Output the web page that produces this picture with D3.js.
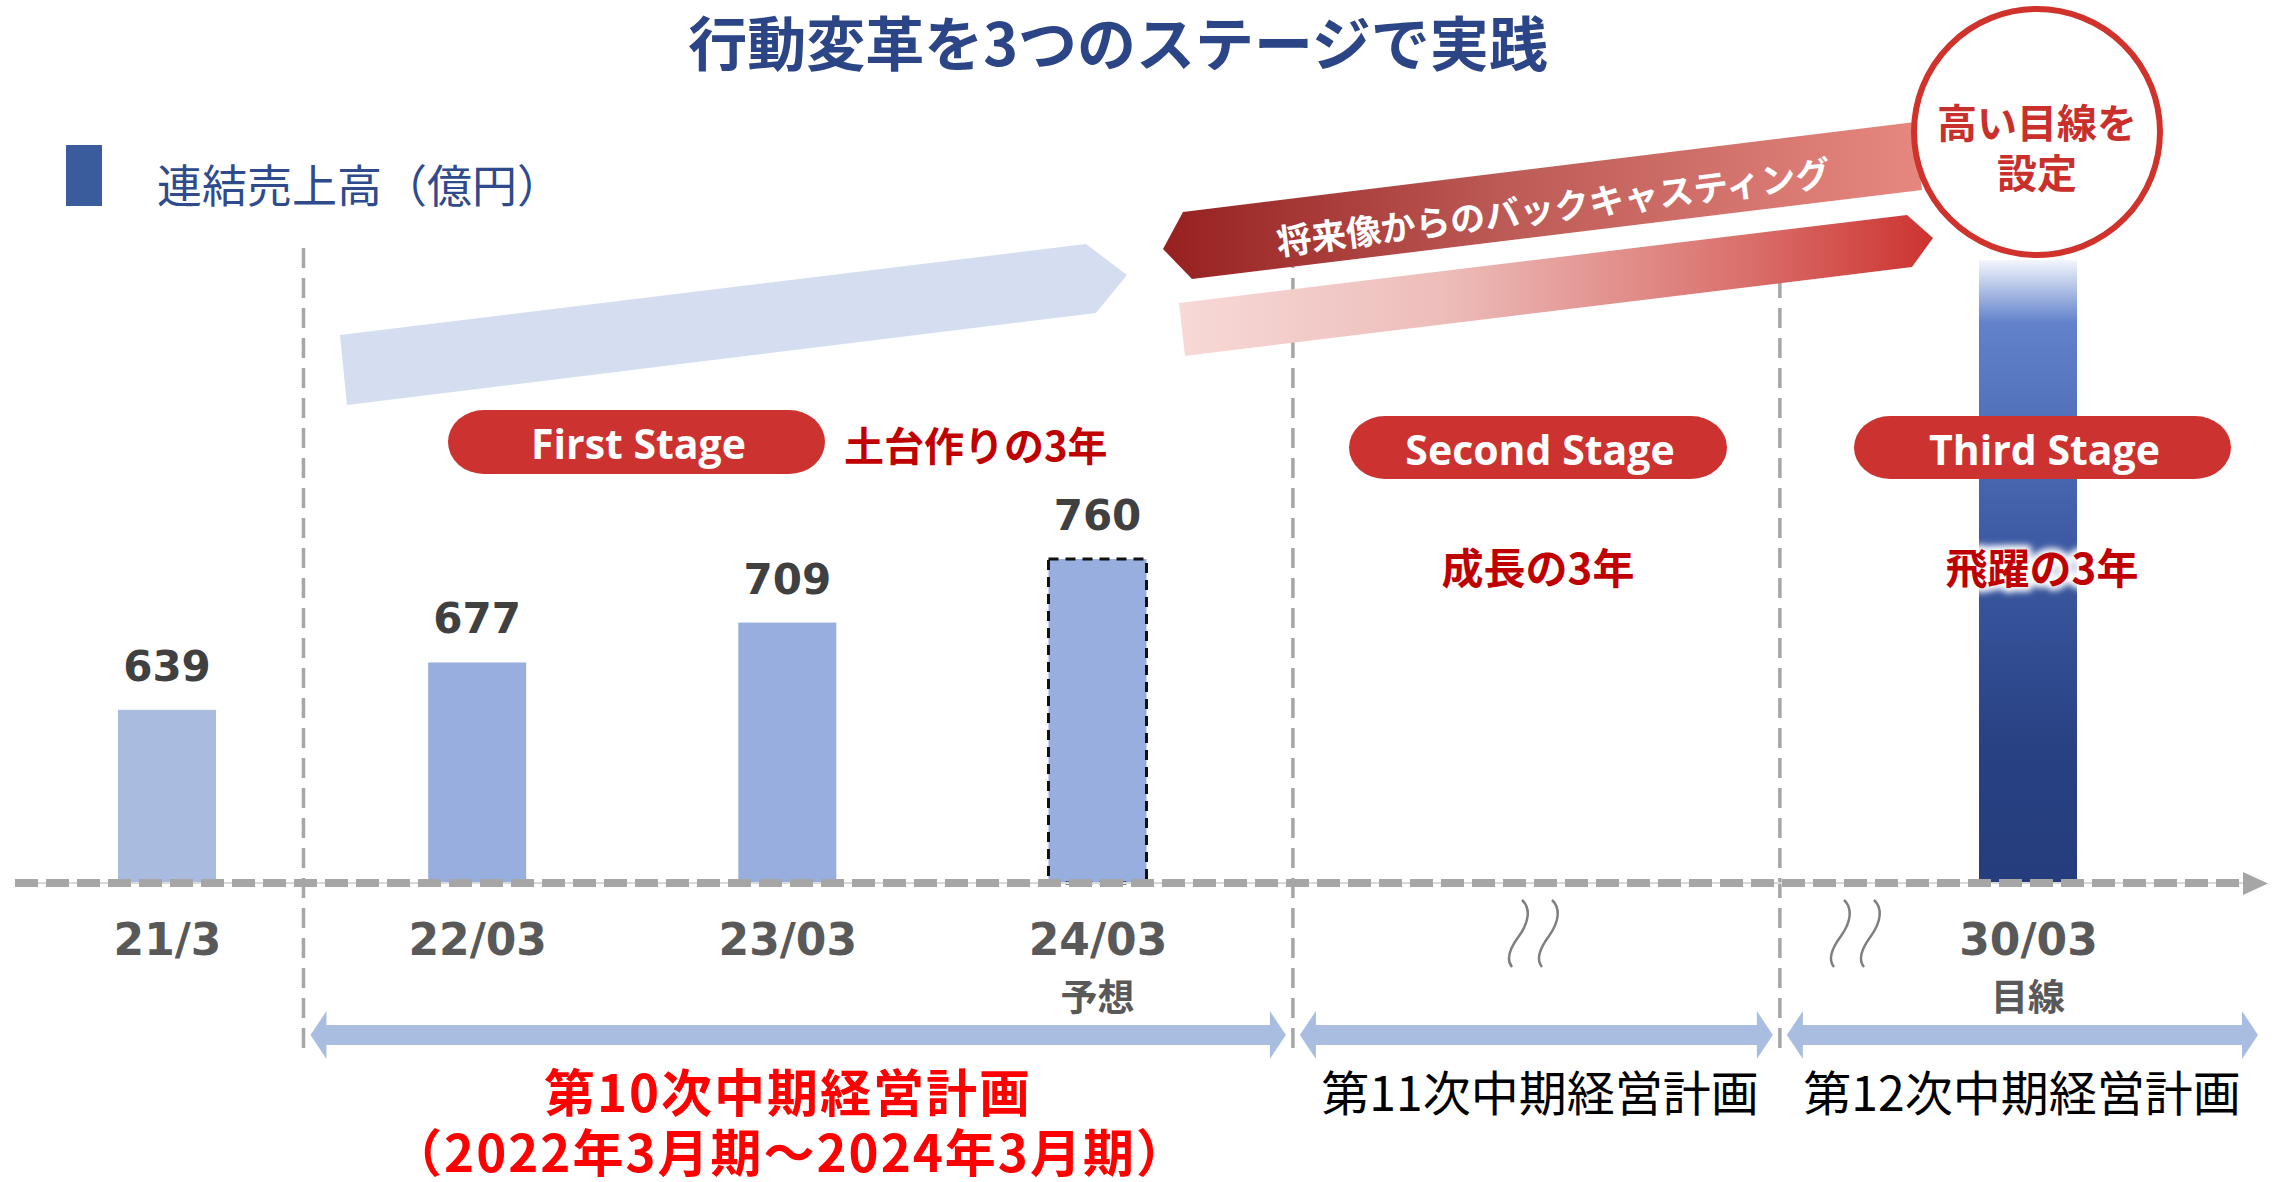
<!DOCTYPE html>
<html lang="ja">
<head>
<meta charset="utf-8">
<script src="https://cdn.jsdelivr.net/npm/d3@7"></script>
<style>
  html, body { margin: 0; padding: 0; background: #ffffff; }
  svg { display: block; }
</style>
</head>
<body>
<svg id="chart" width="2285" height="1182"></svg>
<script>
// ---- data -------------------------------------------------------------
const slots = ["21/3", "22/03", "23/03", "24/03", "25-27", "28-29", "30/03"];
const periods = ["21/3", "22/03", "23/03", "24/03", "30/03"];
const sales = [639, 677, 709, 760, 1000];          // 連結売上高（億円）
const kinds = ["actual", "actual", "actual", "forecast", "target"];
const periodNotes = ["", "", "", "予想", "目線"];
const stages = ["First Stage", "Second Stage", "Third Stage"];
const stageThemes = ["土台作りの3年", "成長の3年", "飛躍の3年"];
const plans = ["第10次中期経営計画", "第11次中期経営計画", "第12次中期経営計画"];
const planTerm = "（2022年3月期～2024年3月期）";
const titleText = "行動変革を3つのステージで実践";
const legendText = "連結売上高（億円）";
const backcastText = "将来像からのバックキャスティング";
const goalText = ["高い目線を", "設定"];

// ---- layout -----------------------------------------------------------
const W = 2285, H = 1182;
const baseY = 883;
const barW = 98;
const JP = "'Noto Sans CJK JP', 'Noto Sans', sans-serif";
const NUM = "'DejaVu Sans', 'Noto Sans CJK JP', sans-serif";
const LAT = "'Open Sans', 'Noto Sans', sans-serif";

const x = d3.scalePoint().domain(slots).range([167, 2028]);
const y = d3.scaleLinear().domain([500, 1000]).range([baseY, 260]);
// fractional slot positions for plan boundaries
const xs = d3.scaleLinear().domain([0, slots.length - 1]).range(x.range());
const dividerSlots = [0.44, 3.63, 5.2];
const dividers = dividerSlots.map(xs);
const planSpans = [[dividers[0], dividers[1]], [dividers[1], dividers[2]], [dividers[2], 2266]];
const stageCenters = [636, 1538, 2042];

const rows = periods.map((p, i) => ({ p, v: sales[i], kind: kinds[i], note: periodNotes[i] }));

const svg = d3.select("#chart");
const defs = svg.append("defs");

function linGrad(id, x1, y1, x2, y2, stops) {
  const g = defs.append("linearGradient").attr("id", id)
    .attr("gradientUnits", "userSpaceOnUse")
    .attr("x1", x1).attr("y1", y1).attr("x2", x2).attr("y2", y2);
  stops.forEach(([o, c]) => g.append("stop").attr("offset", o).attr("stop-color", c));
}
linGrad("gradTarget", 0, y(1000), 0, baseY,
  [[0, "#f3f6fc"], [0.1, "#6282cc"], [0.45, "#3d5ba5"], [0.78, "#284183"], [1, "#253d7c"]]);
linGrad("gradBack", 1163, 0, 1915, 0,
  [[0, "#96201f"], [0.45, "#bc5a56"], [1, "#e6877f"]]);
linGrad("gradForward", 1179, 0, 1933, 0,
  [[0, "#f7d9d7"], [0.35, "#edbdba"], [0.75, "#da706c"], [1, "#cc3330"]]);

const glow = defs.append("filter").attr("id", "glow")
  .attr("x", "-20%").attr("y", "-40%").attr("width", "140%").attr("height", "180%");
glow.append("feGaussianBlur").attr("stdDeviation", 3);

// ---- title & legend ---------------------------------------------------
svg.append("text")
  .attr("x", 1118).attr("y", 40)
  .attr("text-anchor", "middle").attr("dominant-baseline", "central")
  .attr("font-family", JP).attr("font-weight", 700).attr("font-size", 59)
  .attr("fill", "#2b4586")
  .text(titleText);

svg.append("rect").attr("x", 66).attr("y", 145).attr("width", 36).attr("height", 61)
  .attr("fill", "#3a5c9c");
svg.append("text")
  .attr("x", 157).attr("y", 183).attr("dominant-baseline", "central")
  .attr("font-family", JP).attr("font-size", 45).attr("fill", "#2f4b8c")
  .text(legendText);

// ---- plan boundaries --------------------------------------------------
svg.append("g").selectAll("line").data(dividers).join("line")
  .attr("x1", d => d).attr("x2", d => d)
  .attr("y1", 248).attr("y2", 1058)
  .attr("stroke", "#a6a6a6").attr("stroke-width", 3.5)
  .attr("stroke-dasharray", "20,10");

// ---- direction bands --------------------------------------------------
const bands = svg.append("g");
bands.append("polygon")
  .attr("points", [[340, 335], [1086, 244], [1127, 275], [1096, 313], [347, 405]].join(" "))
  .attr("fill", "#d4def0");
bands.append("polygon")
  .attr("points", [[1163, 249], [1183, 212], [1915, 122], [1922, 190], [1192, 279]].join(" "))
  .attr("fill", "url(#gradBack)");
bands.append("polygon")
  .attr("points", [[1179, 303], [1907, 215], [1933, 238], [1912, 267], [1185, 356]].join(" "))
  .attr("fill", "url(#gradForward)");
bands.append("text")
  .attr("transform", "translate(1553,205) rotate(-7.2)")
  .attr("text-anchor", "middle").attr("dominant-baseline", "central")
  .attr("font-family", JP).attr("font-weight", 700).attr("font-size", 35)
  .attr("fill", "#ffffff")
  .text(backcastText);

// ---- bars -------------------------------------------------------------
const barFill = { actual: "#97aedf", forecast: "#97aedf", target: "url(#gradTarget)" };
svg.append("g").selectAll("rect").data(rows).join("rect")
  .attr("x", d => x(d.p) - barW / 2)
  .attr("y", d => y(d.v))
  .attr("width", barW)
  .attr("height", d => baseY - y(d.v))
  .attr("fill", (d, i) => i === 0 ? "#a9bbde" : barFill[d.kind])
  .attr("stroke", d => d.kind === "forecast" ? "#111111" : "none")
  .attr("stroke-width", 3)
  .attr("stroke-dasharray", "10,7");

// value labels
svg.append("g").selectAll("text").data(rows.filter(d => d.kind !== "target")).join("text")
  .attr("x", d => x(d.p))
  .attr("y", d => y(d.v) - 29)
  .attr("text-anchor", "middle")
  .attr("font-family", NUM).attr("font-weight", 700).attr("font-size", 42)
  .attr("fill", "#404040")
  .text(d => d3.format("d")(d.v));

// ---- goal circle ------------------------------------------------------
svg.append("circle").attr("cx", 2037).attr("cy", 132).attr("r", 123)
  .attr("fill", "#ffffff").attr("stroke", "#d0322c").attr("stroke-width", 6);
svg.append("text")
  .attr("text-anchor", "middle")
  .attr("font-family", JP).attr("font-weight", 700).attr("font-size", 40)
  .attr("fill", "#c9302c")
  .selectAll("tspan").data(goalText).join("tspan")
  .attr("x", 2037).attr("y", (d, i) => 138 + i * 50)
  .text(d => d);

// ---- stage pills ------------------------------------------------------
const pillBoxes = [[448, 410, 377, 64], [1349, 416, 378, 63], [1854, 416, 377, 63]];
const pills = svg.append("g").selectAll("g").data(stages).join("g");
pills.append("rect")
  .attr("x", (d, i) => pillBoxes[i][0]).attr("y", (d, i) => pillBoxes[i][1])
  .attr("width", (d, i) => pillBoxes[i][2]).attr("height", (d, i) => pillBoxes[i][3])
  .attr("rx", 36).attr("ry", 32)
  .attr("fill", "#cc3330");
pills.append("text")
  .attr("x", (d, i) => pillBoxes[i][0] + pillBoxes[i][2] / 2 + 2)
  .attr("y", (d, i) => pillBoxes[i][1] + pillBoxes[i][3] / 2 + 1)
  .attr("text-anchor", "middle").attr("dominant-baseline", "central")
  .attr("font-family", LAT).attr("font-weight", 700).attr("font-size", 41)
  .attr("fill", "#ffffff")
  .text(d => d);

// stage themes
const themePos = [[844, 444, "start"], [stageCenters[1], 565, "middle"], [stageCenters[2], 565, "middle"]];
const themes = svg.append("g");
// soft white halo behind the theme that sits on the target bar
themes.append("text")
  .attr("x", themePos[2][0]).attr("y", themePos[2][1])
  .attr("text-anchor", "middle").attr("dominant-baseline", "central")
  .attr("font-family", JP).attr("font-weight", 700).attr("font-size", 42)
  .attr("fill", "#ffffff").attr("stroke", "#ffffff").attr("stroke-width", 9)
  .attr("stroke-linejoin", "round").attr("filter", "url(#glow)")
  .text(stageThemes[2]);
themes.selectAll("text.theme").data(stageThemes).join("text").attr("class", "theme")
  .attr("x", (d, i) => themePos[i][0]).attr("y", (d, i) => themePos[i][1])
  .attr("text-anchor", (d, i) => themePos[i][2]).attr("dominant-baseline", "central")
  .attr("font-family", JP).attr("font-weight", 700)
  .attr("font-size", (d, i) => i === 0 ? 40 : 42)
  .attr("fill", "#c00000")
  .text(d => d);

// ---- time axis --------------------------------------------------------
const axisLine = svg.append("g");
axisLine.append("line").attr("x1", 15).attr("x2", 2245).attr("y1", baseY).attr("y2", baseY)
  .attr("stroke", "#d9d9d9").attr("stroke-width", 2);
axisLine.append("line").attr("x1", 15).attr("x2", 2245).attr("y1", baseY).attr("y2", baseY)
  .attr("stroke", "#a6a6a6").attr("stroke-width", 8).attr("stroke-dasharray", "23,8");
axisLine.append("polygon")
  .attr("points", [[2243, 872], [2268, 883.5], [2243, 895]].join(" "))
  .attr("fill", "#a6a6a6");

const xAxis = d3.axisBottom(x).tickValues(periods).tickSize(0).tickPadding(0);
const gx = svg.append("g").attr("transform", "translate(0,939)").call(xAxis);
gx.select(".domain").remove();
gx.attr("font-family", NUM).attr("font-size", 44).attr("font-weight", 700).attr("color", "#595959");
gx.selectAll("text").attr("y", 0).attr("dy", "0.36em");

svg.append("g").selectAll("text").data(rows.filter(d => d.note)).join("text")
  .attr("x", d => x(d.p)).attr("y", 995)
  .attr("text-anchor", "middle").attr("dominant-baseline", "central")
  .attr("font-family", JP).attr("font-weight", 700).attr("font-size", 37)
  .attr("fill", "#595959")
  .text(d => d.note);

// period break marks
const breakTops = [1522, 1844];
const breaks = svg.append("g").attr("fill", "none").attr("stroke", "#7f7f7f").attr("stroke-width", 2.5);
breakTops.forEach(tx => {
  [0, 30].forEach(off => {
    const t = tx + off;
    breaks.append("path")
      .attr("d", `M${t},900 C${t + 9},908 ${t + 7},922 ${t - 3},936 C${t - 15},952 ${t - 15},961 ${t - 10},967`);
  });
});

// ---- plan period arrows -----------------------------------------------
function doubleArrow(x0, x1) {
  const cy = 1035, sh = 10, hh = 24, hl = 16;
  return [[x0, cy], [x0 + hl, cy - hh], [x0 + hl, cy - sh], [x1 - hl, cy - sh], [x1 - hl, cy - hh],
          [x1, cy], [x1 - hl, cy + hh], [x1 - hl, cy + sh], [x0 + hl, cy + sh], [x0 + hl, cy + hh]].join(" ");
}
svg.append("g").selectAll("polygon").data(planSpans).join("polygon")
  .attr("points", (d, i) => doubleArrow(d[0] + 7, i === 2 ? d[1] - 8 : d[1] - 7))
  .attr("fill", "#a8bde0");

// plan names: the current plan in red with its term, the next two in black
const current = svg.append("text")
  .attr("text-anchor", "middle")
  .attr("font-family", JP).attr("font-weight", 700).attr("font-size", 51)
  .attr("fill", "#ff0000");
current.append("tspan").attr("x", 788).attr("y", 1112).attr("letter-spacing", 2).text(plans[0]);
current.append("tspan").attr("x", 790).attr("y", 1172).attr("letter-spacing", 2).text(planTerm);

const planPos = [[1540, 1090], [2022, 1090]];
svg.append("g").selectAll("text").data(plans.slice(1)).join("text")
  .attr("x", (d, i) => planPos[i][0]).attr("y", (d, i) => planPos[i][1])
  .attr("text-anchor", "middle").attr("dominant-baseline", "central")
  .attr("font-family", JP).attr("font-weight", 400).attr("font-size", 48)
  .attr("fill", "#000000")
  .text(d => d);
</script>
</body>
</html>
